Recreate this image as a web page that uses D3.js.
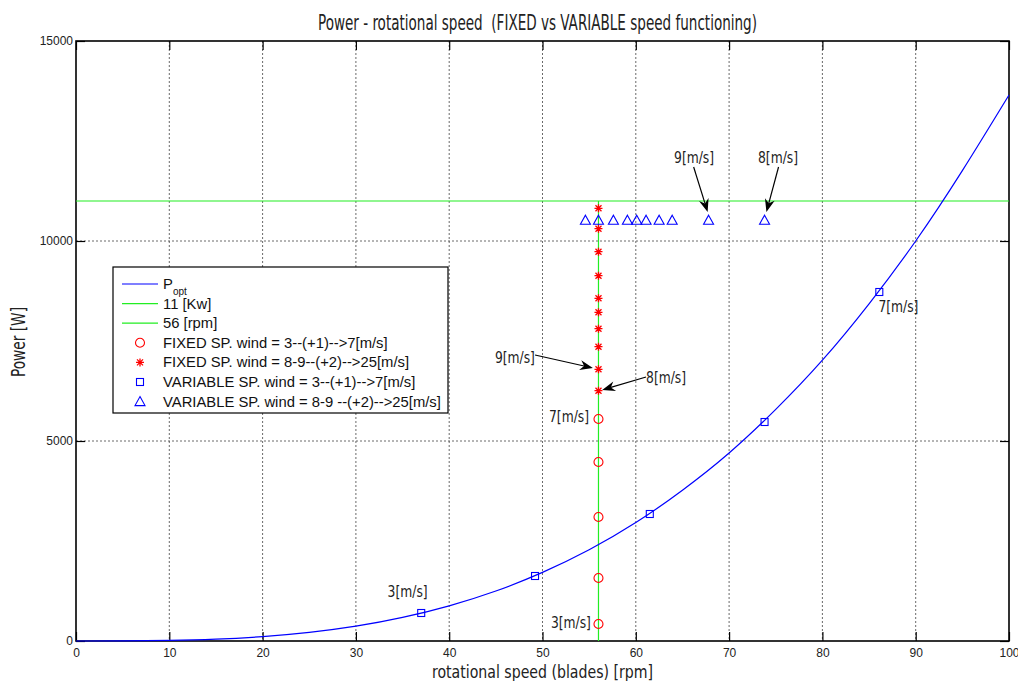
<!DOCTYPE html>
<html>
<head>
<meta charset="utf-8">
<script src="https://cdn.jsdelivr.net/npm/d3@7"></script>
<style>
  body { margin: 0; background: #fff; }
  svg { display: block; }
  .cond { font-family: "DejaVu Sans Condensed", "Liberation Sans Narrow", sans-serif; font-stretch: condensed; fill: #222; white-space: pre; }
  .tick text { font-family: "Liberation Sans", Arial, sans-serif; font-size: 12px; fill: #222; }
</style>
</head>
<body>
<svg id="chart" width="1018" height="681"></svg>
<script>
// optimal power curve
const curveRpm = [0, 5, 10, 15, 20, 25, 30, 35, 40, 45, 50, 55, 60, 65, 70, 75, 80, 85, 90, 95, 100];
const curvePower = [0, 2, 14, 46, 110, 215, 370, 590, 880, 1250, 1715, 2280, 2960, 3770, 4700, 5790, 7020, 8430, 10000, 11760, 13650];

const ratedPower = 11000;
const fixedRpm = 56;

// fixed speed, wind 3..7
const fixedLowPower = [425, 1575, 3100, 4475, 5550];
// fixed speed, wind 8..25
const fixedHighPower = [6258, 6793, 7358, 7808, 8218, 8568, 9133, 9733, 10308, 10818];
// variable speed, wind 3..7
const varLowRpm = [37.0, 49.2, 61.5, 73.8, 86.1];
const varLowPower = [700, 1625, 3175, 5475, 8725];
// variable speed, wind 8..25
const varHighRpm = [73.8, 67.8, 63.9, 62.5, 61.1, 60.1, 59.1, 57.6, 56.0, 54.6];
const varHighPower = [10520, 10520, 10520, 10520, 10520, 10520, 10520, 10520, 10520, 10520];

const xTicks = [0, 10, 20, 30, 40, 50, 60, 70, 80, 90, 100];
const yTicks = [0, 5000, 10000, 15000];

// annotation labels: [text, rpm, power]
const labels = [
  ["9[m/s]", 64.1, 11950],
  ["8[m/s]", 73.1, 11950],
  ["9[m/s]", 44.9, 6950],
  ["8[m/s]", 61.1, 6450],
  ["7[m/s]", 50.7, 5475],
  ["3[m/s]", 33.4, 1100],
  ["3[m/s]", 50.9, 325],
  ["7[m/s]", 86.0, 8225]
];
// arrows: [fromRpm, fromPower, toRpm, toPower]
const arrows = [
  [66.2, 11850, 67.7, 10725],
  [75.3, 11850, 74.0, 10725],
  [49.2, 7150, 55.4, 6825],
  [61.1, 6600, 56.4, 6275]
];

const legendItems = [
  ["line", "#0000ff", "P", "opt"],
  ["line", "#22ee22", "11 [Kw]"],
  ["line", "#22ee22", "56 [rpm]"],
  ["circle", "#ff0000", "FIXED SP. wind = 3--(+1)-->7[m/s]"],
  ["star", "#ff0000", "FIXED SP. wind = 8-9--(+2)-->25[m/s]"],
  ["square", "#0000ff", "VARIABLE SP. wind = 3--(+1)-->7[m/s]"],
  ["triangle", "#0000ff", "VARIABLE SP. wind = 8-9 --(+2)-->25[m/s]"]
];

const svg = d3.select("#chart");
const margin = { left: 76, right: 9, top: 41, bottom: 40 };
const width = 1018 - margin.left - margin.right;
const height = 681 - margin.top - margin.bottom;

const x = d3.scaleLinear().domain([0, 100]).range([0, width]);
const y = d3.scaleLinear().domain([0, 15000]).range([height, 0]);

const g = svg.append("g").attr("transform", `translate(${margin.left},${margin.top})`);

// grid
g.append("g")
  .selectAll("line")
  .data(xTicks.slice(1, -1))
  .join("line")
  .attr("x1", d => x(d)).attr("x2", d => x(d))
  .attr("y1", 0).attr("y2", height)
  .attr("stroke", "#444").attr("stroke-width", 0.8).attr("stroke-dasharray", "2,2");
g.append("g")
  .selectAll("line")
  .data(yTicks.slice(1, -1))
  .join("line")
  .attr("x1", 0).attr("x2", width)
  .attr("y1", d => y(d)).attr("y2", d => y(d))
  .attr("stroke", "#444").attr("stroke-width", 0.8).attr("stroke-dasharray", "2,2");

// axes with inward ticks
const tickLen = 9;
g.append("g").attr("transform", `translate(0,${height})`)
  .call(d3.axisBottom(x).tickValues(xTicks).tickSize(-tickLen).tickPadding(7));
g.append("g")
  .call(d3.axisLeft(y).tickValues(yTicks).tickFormat(d3.format("d")).tickSize(-tickLen).tickPadding(3));
g.append("g").call(d3.axisTop(x).tickValues(xTicks).tickSize(-tickLen).tickFormat(""));
g.append("g").attr("transform", `translate(${width},0)`)
  .call(d3.axisRight(y).tickValues(yTicks).tickSize(-tickLen).tickFormat(""));
g.selectAll(".domain").remove();
g.selectAll(".tick line").attr("stroke", "#000").attr("stroke-width", 1.2);

// frame
g.append("rect")
  .attr("width", width).attr("height", height)
  .attr("fill", "none").attr("stroke", "#000").attr("stroke-width", 1.6);

// green reference lines
g.append("line")
  .attr("x1", 0).attr("x2", width)
  .attr("y1", y(ratedPower)).attr("y2", y(ratedPower))
  .attr("stroke", "#22ee22").attr("stroke-width", 1.2);
g.append("line")
  .attr("x1", x(fixedRpm)).attr("x2", x(fixedRpm))
  .attr("y1", y(0)).attr("y2", y(ratedPower))
  .attr("stroke", "#22ee22").attr("stroke-width", 1.2);

// optimal power curve
const curveData = curveRpm.map((r, i) => [r, curvePower[i]]);
g.append("path")
  .datum(curveData)
  .attr("fill", "none")
  .attr("stroke", "#0000ff")
  .attr("stroke-width", 1.2)
  .attr("d", d3.line().x(d => x(d[0])).y(d => y(d[1])).curve(d3.curveNatural));

// marker drawing helper
function marker(sel, type, color) {
  if (type === "circle") {
    sel.append("circle").attr("r", 4.5).attr("fill", "none").attr("stroke", color).attr("stroke-width", 1.1);
  } else if (type === "square") {
    sel.append("rect").attr("x", -3.5).attr("y", -3.5).attr("width", 7).attr("height", 7)
      .attr("fill", "none").attr("stroke", color).attr("stroke-width", 1.1);
  } else if (type === "triangle") {
    sel.append("path").attr("d", "M0,-5L5,4L-5,4Z")
      .attr("fill", "none").attr("stroke", color).attr("stroke-width", 1.1);
  } else if (type === "star") {
    sel.append("path")
      .attr("d", "M-4,0L4,0M0,-4L0,4M-3,-3L3,3M-3,3L3,-3")
      .attr("fill", "none").attr("stroke", color).attr("stroke-width", 1.3);
  }
}

function drawSeries(xs, ys, type, color) {
  g.append("g")
    .selectAll("g")
    .data(ys.map((p, i) => [xs[i], p]))
    .join("g")
    .attr("transform", d => `translate(${x(d[0])},${y(d[1])})`)
    .each(function () { marker(d3.select(this), type, color); });
}

drawSeries(fixedLowPower.map(() => fixedRpm), fixedLowPower, "circle", "#ff0000");
drawSeries(fixedHighPower.map(() => fixedRpm), fixedHighPower, "star", "#ff0000");
drawSeries(varLowRpm, varLowPower, "square", "#0000ff");
drawSeries(varHighRpm, varHighPower, "triangle", "#0000ff");

// annotations
g.append("g")
  .selectAll("text")
  .data(labels)
  .join("text")
  .attr("class", "cond")
  .attr("x", d => x(d[1]))
  .attr("y", d => y(d[2]))
  .attr("font-size", 16)
  .attr("textLength", 40)
  .attr("lengthAdjust", "spacingAndGlyphs")
  .text(d => d[0]);

const arrowG = g.append("g");
arrows.forEach(a => {
  const x1 = x(a[0]), y1 = y(a[1]), x2 = x(a[2]), y2 = y(a[3]);
  const ang = Math.atan2(y2 - y1, x2 - x1);
  const len = 13, half = 5, notch = 9;
  const ux = Math.cos(ang), uy = Math.sin(ang);
  const bx = x2 - ux * len, by = y2 - uy * len;
  const nx = x2 - ux * notch, ny = y2 - uy * notch;
  arrowG.append("line")
    .attr("x1", x1).attr("y1", y1).attr("x2", nx).attr("y2", ny)
    .attr("stroke", "#000").attr("stroke-width", 1.2);
  arrowG.append("path")
    .attr("d", `M${x2},${y2}L${bx - uy * half},${by + ux * half}L${nx},${ny}L${bx + uy * half},${by - ux * half}Z`)
    .attr("fill", "#000");
});

// legend
const leg = svg.append("g").attr("transform", "translate(113,267)");
leg.append("rect")
  .attr("width", 335).attr("height", 146)
  .attr("fill", "#fff").attr("stroke", "#000").attr("stroke-width", 1.2);
legendItems.forEach((item, i) => {
  const row = leg.append("g").attr("transform", `translate(0,${17 + i * 19.6})`);
  if (item[0] === "line") {
    row.append("line").attr("x1", 9).attr("x2", 45).attr("y1", 0).attr("y2", 0)
      .attr("stroke", item[1]).attr("stroke-width", 1.2);
  } else {
    const m = row.append("g").attr("transform", "translate(27,0)");
    marker(m, item[0], item[1]);
  }
  const t = row.append("text")
    .attr("x", 50).attr("y", 5)
    .attr("font-family", "Liberation Sans, Arial, sans-serif")
    .attr("font-size", 14.8)
    .attr("fill", "#111")
    .text(item[2]);
  if (item[3]) {
    t.append("tspan").attr("font-size", 10).attr("dy", 6).text(item[3]);
  }
});

// title and axis labels
svg.append("text")
  .attr("class", "cond")
  .attr("x", 318).attr("y", 30)
  .attr("font-size", 21)
  .attr("textLength", 439)
  .attr("lengthAdjust", "spacingAndGlyphs")
  .text("Power - rotational speed  (FIXED vs VARIABLE speed functioning)");

svg.append("text")
  .attr("class", "cond")
  .attr("x", 432).attr("y", 678)
  .attr("font-size", 17.5)
  .attr("textLength", 221)
  .attr("lengthAdjust", "spacingAndGlyphs")
  .text("rotational speed (blades) [rpm]");

svg.append("text")
  .attr("class", "cond")
  .attr("transform", "translate(25,377) rotate(-90)")
  .attr("font-size", 19)
  .attr("textLength", 70)
  .attr("lengthAdjust", "spacingAndGlyphs")
  .text("Power [W]");
</script>
</body>
</html>
